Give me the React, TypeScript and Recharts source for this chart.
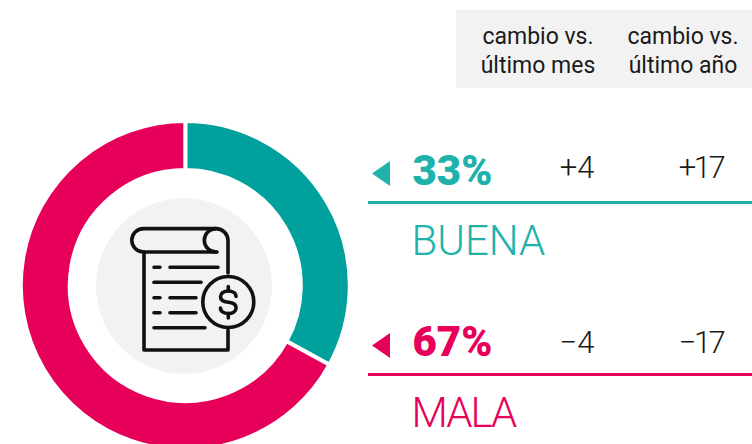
import { PieChart, Pie, Cell } from "recharts";

const categories = ["BUENA", "MALA"];
const shares = [33, 67];
const monthChanges = ["+4", "−4"];
const yearChanges = ["+17", "−17"];
const headerLines = ["cambio vs.", "último mes", "último año"];

const PIE_COLORS = ["#00a19d", "#e6005a"];
const TEXT_COLORS = ["#20b2aa", "#e6005a"];
const ROW_OFFSET = [0, 172];
const NAME_SPACING = [0, -2];

const FONT = "Roboto, sans-serif";

const pieData = categories.map((name, i) => ({ name, value: shares[i] }));

function BillIcon() {
  return (
    <g fill="none" stroke="#111" strokeWidth={3.6} strokeLinecap="round" strokeLinejoin="round">
      {/* paper roll */}
      <path d="M217 252H143.500a11.700 11.700 0 0 1 0-23.400H216a12 12 0 0 1 12 12V273" />
      <path d="M216 228.600a11.700 11.700 0 0 0 0 23.400" />
      <path d="M144 252V350H228V330" />
      {/* text rows */}
      <path d="M154 267.300H160M170 267.300H218" />
      <path d="M154 282.300H201" />
      <path d="M154 297.700H160M170 297.700H196" />
      <path d="M154 312.700H160M170 312.700H196" />
      <path d="M154 327.700H205" />
      {/* coin */}
      <circle cx={228.300} cy={302} r={25.500} />
      <path d="M236 296.500c0-3.500-3.500-5.500-7.700-5.500s-7.800 2.300-7.800 5.700 3.300 5 7.800 5.500 7.800 2.200 7.800 5.600-3.500 5.700-7.800 5.700-7.800-2-7.800-5.500" />
      <path d="M228.300 286.500V291M228.300 313.500V318" />
    </g>
  );
}

export default function App() {
  return (
    <div
      style={{
        position: "absolute",
        left: 0,
        top: 0,
        width: 752,
        height: 444,
        overflow: "hidden",
        background: "#fff",
      }}
    >
      <div style={{ position: "absolute", left: 0, top: 0 }}>
        <PieChart width={752} height={444} margin={{ top: 0, right: 0, bottom: 0, left: 0 }}>
          <Pie
            data={pieData}
            dataKey="value"
            nameKey="name"
            cx={185.3}
            cy={285.5}
            innerRadius={115.5}
            outerRadius={164.5}
            startAngle={90}
            endAngle={-270}
            stroke="#fff"
            strokeWidth={4}
            isAnimationActive={false}
          >
            {pieData.map((d, i) => (
              <Cell key={d.name} fill={PIE_COLORS[i]} />
            ))}
          </Pie>
        </PieChart>
      </div>

      <svg
        width={752}
        height={444}
        style={{ position: "absolute", left: 0, top: 0, fontFamily: FONT }}
      >
        <circle cx={184} cy={286} r={88} fill="#f2f2f2" />
        <BillIcon />

        {/* header */}
        <rect x={456} y={10} width={296} height={78} fill="#f2f2f2" />
        <g fontSize={23} fill="#1a1a1a" textAnchor="middle">
          <text x={538} y={44}>{headerLines[0]}</text>
          <text x={538} y={73}>{headerLines[1]}</text>
          <text x={683} y={44}>{headerLines[0]}</text>
          <text x={683} y={73}>{headerLines[2]}</text>
        </g>

        {/* rows */}
        {categories.map((name, i) => {
          const dy = ROW_OFFSET[i];
          const color = TEXT_COLORS[i];
          return (
            <g key={name}>
              <path d={`M372 ${173.5 + dy}L390 ${161 + dy}V${186 + dy}Z`} fill={color} />
              <text x={412.5} y={185 + dy - (i ? 1 : 0)} fontSize={42} fontWeight={900} fill={color}>
                {shares[i]}%
              </text>
              <text x={577} y={178 + dy + (i ? 3 : 0)} fontSize={31} fontWeight={300} fill="#1a1a1a" textAnchor="middle">
                {monthChanges[i]}
              </text>
              <text x={701} y={178 + dy + (i ? 3 : 0)} fontSize={31} fontWeight={300} letterSpacing={-2.5} fill="#1a1a1a" textAnchor="middle">
                {yearChanges[i]}
              </text>
              <rect x={368} y={201 + dy} width={384} height={3} fill={color} />
              <text x={411.5} y={256 + dy - 1} fontSize={42} fontWeight={300} letterSpacing={NAME_SPACING[i]} fill={color}>
                {name}
              </text>
            </g>
          );
        })}
      </svg>
    </div>
  );
}
